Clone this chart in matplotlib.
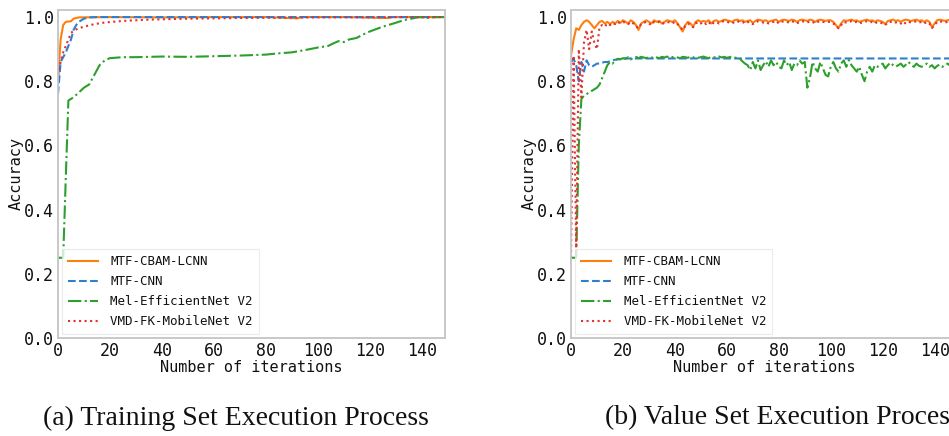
import matplotlib
matplotlib.use("Agg")
import matplotlib.pyplot as plt

# ---------------- data ----------------
labels = ["MTF-CBAM-LCNN", "MTF-CNN", "Mel-EfficientNet V2", "VMD-FK-MobileNet V2"]
xticks = [0, 20, 40, 60, 80, 100, 120, 140]
yticks = [0.0, 0.2, 0.4, 0.6, 0.8, 1.0]
captions = ["(a) Training Set Execution Process", "(b) Value Set Execution Process"]

# Training set (vertices)
tr_cbam_x = [0, 1, 2, 3, 5, 6, 7, 8, 20, 40, 60, 80, 92, 94, 96, 110, 127, 129, 131, 149]
tr_cbam_y = [0.80, 0.93, 0.975, 0.985, 0.987, 0.995, 0.997, 0.999, 1.0, 0.999, 1.0, 1.0,
             0.996, 1.0, 1.0, 1.0, 0.997, 1.0, 1.0, 1.0]
tr_cnn_x = [0, 1, 2, 3, 4, 5, 6, 7, 8, 9, 10, 12, 15, 149]
tr_cnn_y = [0.76, 0.86, 0.875, 0.89, 0.91, 0.93, 0.96, 0.975, 0.985, 0.99, 0.995, 0.999, 1.0, 1.0]
tr_mel_x = [0, 2, 3, 4, 6, 8, 10, 12, 14, 16, 18, 20, 25, 30, 40, 50, 60, 70, 80, 85, 90, 95,
            100, 104, 106, 108, 110, 112, 115, 117, 120, 125, 130, 133, 136, 139, 143, 145, 149]
tr_mel_y = [0.25, 0.25, 0.50, 0.74, 0.75, 0.765, 0.78, 0.79, 0.82, 0.85, 0.865, 0.872, 0.875,
            0.875, 0.877, 0.876, 0.878, 0.88, 0.883, 0.887, 0.89, 0.897, 0.905, 0.91, 0.918,
            0.925, 0.922, 0.93, 0.935, 0.944, 0.955, 0.97, 0.982, 0.99, 0.995, 1.0, 0.997, 1.0, 1.0]
tr_vmd_x = [0, 1, 2, 3, 4, 5, 6, 8, 10, 14, 18, 25, 35, 50, 70, 100, 149]
tr_vmd_y = [0.82, 0.86, 0.89, 0.91, 0.93, 0.95, 0.958, 0.965, 0.97, 0.978, 0.983, 0.988,
            0.992, 0.995, 0.997, 0.999, 1.0]

# Validation set (one value per iteration 0..149)
va_iter = list(range(150))
va_cbam = [0.88, 0.93, 0.965, 0.96, 0.975, 0.985, 0.99, 0.985, 0.975, 0.965,
           0.975, 0.985, 0.988, 0.98, 0.985, 0.978, 0.985, 0.98, 0.988, 0.982,
           0.99, 0.985, 0.98, 0.99, 0.985, 0.975, 0.96, 0.98, 0.985, 0.99,
           0.985, 0.98, 0.99, 0.985, 0.988, 0.98, 0.985, 0.99, 0.988, 0.985,
           0.99, 0.98, 0.968, 0.955, 0.975, 0.985, 0.98, 0.97, 0.985, 0.99,
           0.985, 0.988, 0.985, 0.99, 0.98, 0.988, 0.99, 0.985, 0.988, 0.992,
           0.99, 0.988, 0.985, 0.99, 0.992, 0.988, 0.99, 0.985, 0.988, 0.99,
           0.982, 0.988, 0.992, 0.99, 0.988, 0.99, 0.985, 0.988, 0.99, 0.992,
           0.985, 0.99, 0.992, 0.99, 0.988, 0.992, 0.99, 0.985, 0.99, 0.992,
           0.99, 0.988, 0.992, 0.99, 0.985, 0.99, 0.992, 0.99, 0.988, 0.99,
           0.99, 0.985, 0.975, 0.966, 0.98, 0.99, 0.988, 0.99, 0.992, 0.988,
           0.99, 0.985, 0.988, 0.99, 0.992, 0.988, 0.99, 0.985, 0.99, 0.988,
           0.985, 0.978, 0.988, 0.99, 0.992, 0.988, 0.99, 0.985, 0.99, 0.992,
           0.99, 0.988, 0.99, 0.992, 0.988, 0.99, 0.985, 0.99, 0.985, 0.968,
           0.98, 0.99, 0.992, 0.99, 0.988, 0.99, 0.992, 0.99, 0.988, 0.99]
va_cnn = [0.86, 0.87, 0.85, 0.80, 0.86, 0.83, 0.865, 0.85, 0.845, 0.85,
          0.855, 0.855, 0.858, 0.86, 0.86, 0.862, 0.865, 0.867, 0.868, 0.87] + [0.871] * 130
va_mel = [0.25, 0.25, 0.25, 0.60, 0.745, 0.755, 0.76, 0.765, 0.77, 0.775,
          0.78, 0.79, 0.81, 0.83, 0.85, 0.86, 0.855, 0.865, 0.87, 0.868,
          0.872, 0.87, 0.875, 0.868, 0.873, 0.876, 0.872, 0.876, 0.874, 0.872,
          0.876, 0.873, 0.877, 0.874, 0.872, 0.876, 0.874, 0.877, 0.873, 0.875,
          0.877, 0.874, 0.872, 0.876, 0.875, 0.873, 0.877, 0.874, 0.876, 0.873,
          0.875, 0.877, 0.874, 0.872, 0.876, 0.875, 0.873, 0.877, 0.874, 0.876,
          0.873, 0.875, 0.877, 0.874, 0.872, 0.87, 0.862, 0.855, 0.85, 0.835,
          0.86, 0.84, 0.865, 0.835, 0.85, 0.862, 0.845, 0.865, 0.85, 0.86,
          0.845, 0.84, 0.865, 0.85, 0.86, 0.835, 0.855, 0.85, 0.865, 0.855,
          0.86, 0.78, 0.81, 0.86, 0.84, 0.83, 0.86, 0.84, 0.82, 0.815,
          0.845, 0.86, 0.84, 0.83, 0.855, 0.865, 0.845, 0.866, 0.85, 0.84,
          0.83, 0.845, 0.82, 0.80, 0.83, 0.845, 0.83, 0.85, 0.845, 0.85,
          0.855, 0.84, 0.85, 0.858, 0.85, 0.845, 0.85, 0.855, 0.845, 0.852,
          0.86, 0.85, 0.845, 0.855, 0.848, 0.845, 0.85, 0.855, 0.845, 0.85,
          0.84, 0.848, 0.852, 0.845, 0.85, 0.855, 0.848, 0.845, 0.852, 0.855]
va_vmd = [0.25, 0.88, 0.28, 0.90, 0.75, 0.92, 0.96, 0.90, 0.955, 0.92,
          0.90, 0.97, 0.975, 0.97, 0.98, 0.975, 0.982, 0.978, 0.985, 0.98,
          0.985, 0.982, 0.978, 0.985, 0.98, 0.972, 0.965, 0.978, 0.982, 0.985,
          0.98, 0.975, 0.985, 0.982, 0.985, 0.978, 0.982, 0.985, 0.983, 0.98,
          0.985, 0.978, 0.97, 0.96, 0.972, 0.98, 0.975, 0.968, 0.98, 0.985,
          0.98, 0.985, 0.978, 0.985, 0.975, 0.983, 0.985, 0.98, 0.985, 0.988,
          0.985, 0.983, 0.98, 0.985, 0.988, 0.983, 0.985, 0.98, 0.984, 0.985,
          0.978, 0.983, 0.987, 0.985, 0.983, 0.985, 0.98, 0.983, 0.985, 0.988,
          0.98, 0.985, 0.987, 0.985, 0.983, 0.987, 0.985, 0.98, 0.985, 0.987,
          0.985, 0.983, 0.987, 0.985, 0.98, 0.985, 0.987, 0.985, 0.983, 0.985,
          0.985, 0.98, 0.972, 0.965, 0.975, 0.985, 0.983, 0.985, 0.987, 0.983,
          0.985, 0.98, 0.983, 0.985, 0.987, 0.983, 0.985, 0.98, 0.985, 0.983,
          0.98, 0.975, 0.983, 0.985, 0.987, 0.983, 0.985, 0.98, 0.975, 0.985,
          0.985, 0.983, 0.985, 0.987, 0.983, 0.985, 0.98, 0.985, 0.98, 0.966,
          0.975, 0.985, 0.987, 0.985, 0.983, 0.985, 0.987, 0.985, 0.983, 0.985]

# ---------------- style ----------------
colors = ["#ff7f0e", "#2f7fd0", "#2ca02c", "#e03030"]
styles = ["-", "--", "-.", ":"]
mono = "DejaVu Sans Mono"
spine_c = "#c4c4c4"
txt_c = "#111111"

fig = plt.figure(figsize=(9.49, 4.36), dpi=100)
W, H = 949.0, 436.0
ax_l = fig.add_axes([58 / W, (H - 338) / H, 387 / W, 328 / H])
ax_r = fig.add_axes([571 / W, (H - 338) / H, 387 / W, 328 / H])

train = [(tr_cbam_x, tr_cbam_y), (tr_cnn_x, tr_cnn_y), (tr_mel_x, tr_mel_y), (tr_vmd_x, tr_vmd_y)]
val = [(va_iter, va_cbam), (va_iter, va_cnn), (va_iter, va_mel), (va_iter, va_vmd)]

for ax, series in ((ax_l, train), (ax_r, val)):
    for (xs, ys), lab, c, ls in zip(series, labels, colors, styles):
        ax.plot(xs, ys, color=c, linestyle=ls, linewidth=1.5, label=lab)
    ax.set_xlim(0, 149)
    ax.set_ylim(0, 1.022)
    ax.set_xticks(xticks)
    ax.set_yticks(yticks)
    ax.set_xticklabels([str(t) for t in xticks], fontfamily=mono, fontsize=12)
    ax.set_yticklabels(["%.1f" % t for t in yticks], fontfamily=mono, fontsize=12)
    ax.tick_params(length=0, pad=3, colors=txt_c)
    for s in ax.spines.values():
        s.set_color(spine_c)
        s.set_linewidth(1.3)
    ax.set_xlabel("Number of iterations", fontfamily=mono, fontsize=11, labelpad=0, color=txt_c)
    ax.set_ylabel("Accuracy", fontfamily=mono, fontsize=11, labelpad=0, color=txt_c)
    leg = ax.legend(loc="lower left", prop={"family": mono, "size": 9}, handlelength=2.4,
                    handletextpad=1.0, labelspacing=0.55, borderaxespad=0.3, borderpad=0.5,
                    frameon=True, fancybox=False)
    leg.get_frame().set_edgecolor("#e6e6e6")
    leg.get_frame().set_linewidth(0.8)
    for t in leg.get_texts():
        t.set_color(txt_c)

fig.text(43 / W, 1 - 418 / H, captions[0], fontfamily="Liberation Serif", fontsize=20,
         ha="left", va="center", color="#111111")
fig.text(605 / W, 1 - 418 / H, captions[1], fontfamily="Liberation Serif", fontsize=20,
         ha="left", va="center", color="#111111")

fig.savefig("out.png", dpi=100)
